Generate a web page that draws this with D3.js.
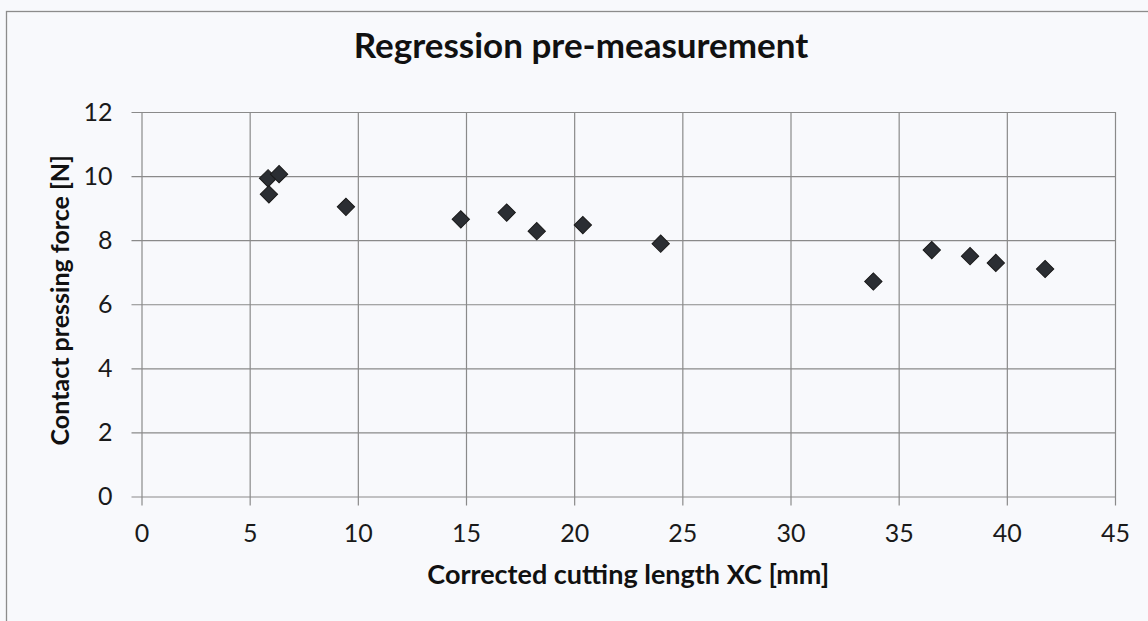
<!DOCTYPE html>
<html>
<head>
<meta charset="utf-8">
<script src="https://cdn.jsdelivr.net/npm/d3@7"></script>
<style>
  body { margin: 0; background: #f8f9fc; }
  svg { display: block; font-family: Lato, "Open Sans", sans-serif; }
</style>
</head>
<body>
<svg id="chart" width="1148" height="621"></svg>
<script>
// measured values (x = corrected cutting length, y = contact pressing force)
var cuttingLength = [5.85, 6.36, 5.89, 9.45, 14.76, 16.88, 18.27, 20.40, 24.0, 33.83, 36.53, 38.30, 39.49, 41.77];
var pressingForce = [9.93, 10.06, 9.43, 9.04, 8.65, 8.86, 8.28, 8.47, 7.89, 6.71, 7.69, 7.50, 7.29, 7.10];
var xTicks = [0, 5, 10, 15, 20, 25, 30, 35, 40, 45];
var yTicks = [0, 2, 4, 6, 8, 10, 12];

var titleText = "Regression pre-measurement";
var xTitle = "Corrected cutting length XC [mm]";
var yTitle = "Contact pressing force [N]";

var svg = d3.select("#chart");

// outer chart frame (cut off at right / bottom as in the scan)
svg.append("rect")
    .attr("x", 6.5).attr("y", 11.5)
    .attr("width", 1200).attr("height", 700)
    .attr("fill", "#f8f9fc")
    .attr("stroke", "#8c8c8c")
    .attr("stroke-width", 1.3);

var margin = {top: 112, left: 141.5},
    width = 1115 - 141.5,
    height = 496.5 - 112;

var g = svg.append("g").attr("transform", "translate(" + margin.left + "," + margin.top + ")");

var x = d3.scaleLinear().domain([0, 45]).range([0, width]);
var y = d3.scaleLinear().domain([0, 12]).range([height, 0]);

// horizontal gridlines + y ticks
g.append("g")
    .attr("class", "y axis")
    .call(d3.axisLeft(y).tickValues(yTicks).tickSize(-width).tickSizeOuter(0).tickPadding(29))
    .call(function(s) {
      s.select(".domain").remove();
      s.selectAll(".tick line").attr("x1", -10).attr("x2", width).attr("stroke", "#8a8a8a").attr("stroke-width", 1.2);
      s.selectAll(".tick text").attr("font-size", 25).attr("fill", "#1a1a1a").attr("font-family", "Lato, sans-serif");
    });

// vertical gridlines + x ticks
g.append("g")
    .attr("class", "x axis")
    .attr("transform", "translate(0," + height + ")")
    .call(d3.axisBottom(x).tickValues(xTicks).tickSize(-height).tickSizeOuter(0).tickPadding(28))
    .call(function(s) {
      s.select(".domain").remove();
      s.selectAll(".tick line").attr("y1", 9).attr("y2", -height).attr("stroke", "#8a8a8a").attr("stroke-width", 1.2);
      s.selectAll(".tick text").attr("font-size", 25).attr("fill", "#1a1a1a").attr("font-family", "Lato, sans-serif");
    });

// data points as diamonds
var diamond = d3.symbol().type(d3.symbolSquare).size(150);
g.selectAll("path.pt")
    .data(cuttingLength.map(function(v, i) { return {X: v, Y: pressingForce[i]}; }))
  .enter().append("path")
    .attr("class", "pt")
    .attr("d", diamond)
    .attr("transform", function(d) { return "translate(" + x(d.X) + "," + y(d.Y) + ") rotate(45)"; })
    .attr("fill", "#2b2e33")
    .attr("stroke", "#1a1a1a")
    .attr("stroke-width", 1);

// titles
svg.append("text")
    .attr("x", 581).attr("y", 58)
    .attr("text-anchor", "middle")
    .attr("font-size", 35).attr("font-weight", "bold").attr("fill", "#111")
    .text(titleText);

svg.append("text")
    .attr("x", margin.left + width / 2).attr("y", 584)
    .attr("text-anchor", "middle")
    .attr("font-size", 27).attr("font-weight", "bold").attr("fill", "#111")
    .text(xTitle);

svg.append("text")
    .attr("transform", "translate(69," + (margin.top + height / 2 - 4) + ") rotate(-90)")
    .attr("text-anchor", "middle")
    .attr("font-size", 25).attr("font-weight", "bold").attr("fill", "#111")
    .text(yTitle);
</script>
</body>
</html>
